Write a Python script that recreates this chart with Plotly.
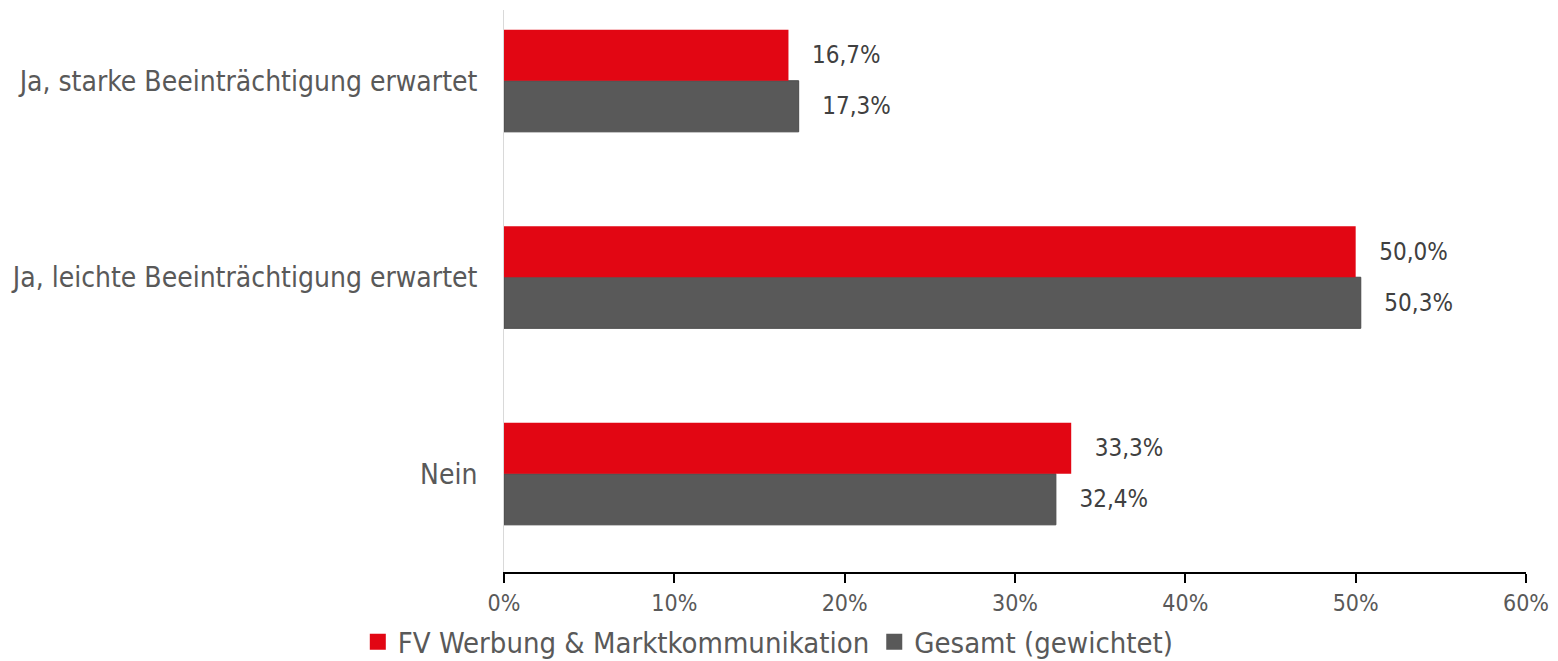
import plotly.graph_objects as go

categories = ["Nein", "Ja, leichte Beeinträchtigung erwartet", "Ja, starke Beeinträchtigung erwartet"]
fv_values = [33.3, 50.0, 16.7]
gesamt_values = [32.4, 50.3, 17.3]
series_names = ["FV Werbung & Marktkommunikation", "Gesamt (gewichtet)"]
tick_vals = [0, 10, 20, 30, 40, 50, 60]
tick_text = ["0%", "10%", "20%", "30%", "40%", "50%", "60%"]

FONT = "DejaVu Sans Condensed, DejaVu Sans"
RED = "#E20613"
GRAY = "#595959"
TEXT = "#595959"

def fmt(v):
    return "   " + f"{v:.1f}".replace(".", ",") + "%"

fig = go.Figure()
# Gesamt first so that, with horizontal grouping, FV appears on top
fig.add_trace(go.Bar(
    y=categories, x=gesamt_values, orientation="h", name=series_names[1],
    marker=dict(color=GRAY, line=dict(color="#4a4a4a", width=1)),
    text=[fmt(v) for v in gesamt_values], textposition="outside",
    textfont=dict(family=FONT, size=24, color="#404040"), cliponaxis=False,
    showlegend=False,
))
fig.add_trace(go.Bar(
    y=categories, x=fv_values, orientation="h", name=series_names[0],
    marker=dict(color=RED, line=dict(color=RED, width=0)),
    text=[fmt(v) for v in fv_values], textposition="outside",
    textfont=dict(family=FONT, size=24, color="#404040"), cliponaxis=False,
    showlegend=False,
))
# legend entries with larger square symbols
fig.add_trace(go.Scatter(x=[None], y=[None], mode="markers", name=series_names[0],
                         marker=dict(symbol="square", size=20, color=RED)))
fig.add_trace(go.Scatter(x=[None], y=[None], mode="markers", name=series_names[1],
                         marker=dict(symbol="square", size=20, color=GRAY)))

fig.update_layout(
    width=1558, height=661,
    margin=dict(l=496, r=40, t=2, b=97, autoexpand=False),
    paper_bgcolor="white", plot_bgcolor="white",
    barmode="group", bargap=0.48, bargroupgap=0,
    font=dict(family=FONT, color=TEXT),
    legend=dict(orientation="h", xref="container", yref="container",
                x=0.488, xanchor="center", y=0.041, yanchor="middle",
                font=dict(family=FONT, size=29, color=TEXT),
                itemwidth=30, tracegroupgap=0),
    xaxis=dict(range=[0, 60], tickvals=tick_vals, ticktext=tick_text,
               showgrid=False, zeroline=False, showline=True, linecolor="#000000", linewidth=2,
               ticks="outside", ticklen=9, tickwidth=2, tickcolor="#000000",
               tickfont=dict(family=FONT, size=23, color=TEXT)),
    yaxis=dict(range=[-0.5, 2.36], showgrid=False, zeroline=False,
               showline=True, linecolor="#d9d9d9", linewidth=1,
               ticks="", ticklabelstandoff=20,
               tickfont=dict(family=FONT, size=28, color=TEXT)),
)

fig.write_html("out.html")
